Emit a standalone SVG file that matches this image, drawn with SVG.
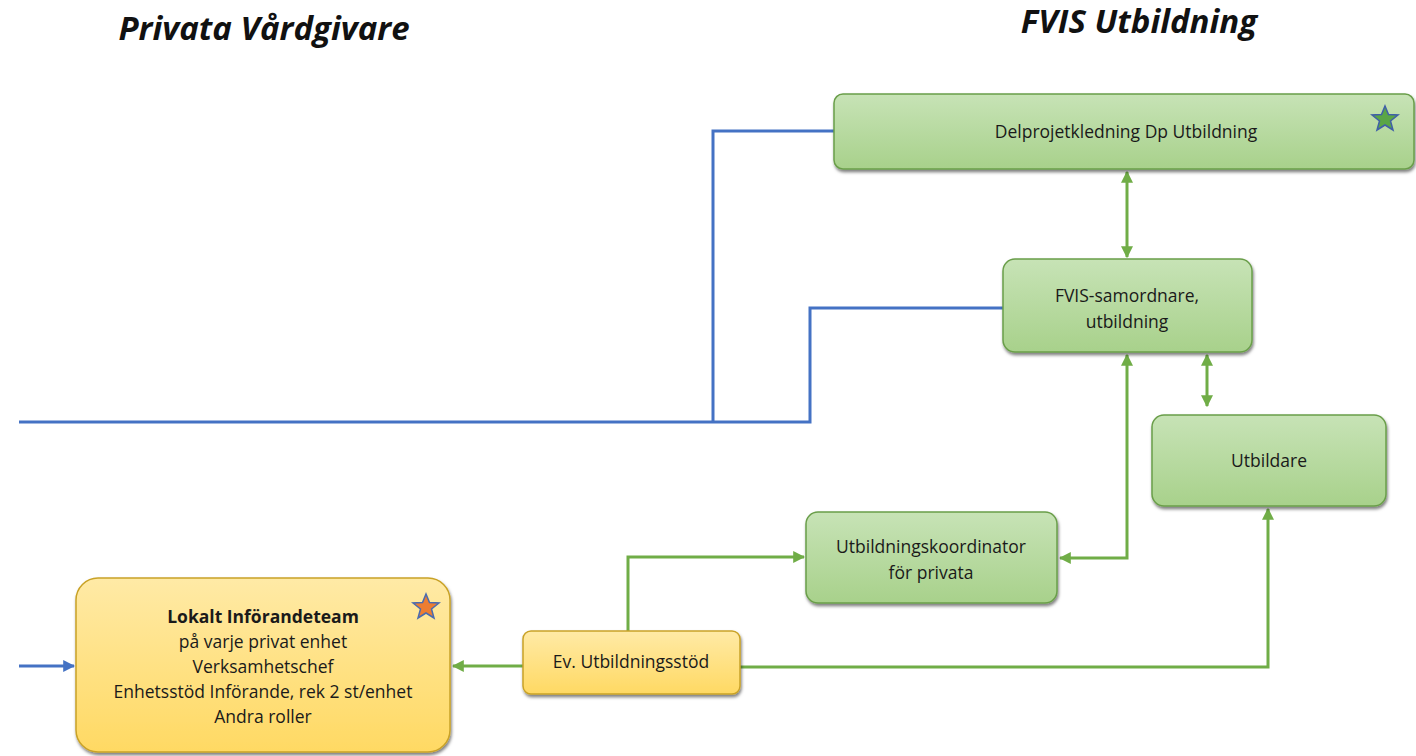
<svg xmlns="http://www.w3.org/2000/svg" width="1416" height="756" viewBox="0 0 1416 756">
<style>
.title{font-family:"Open Sans","Noto Sans",sans-serif;font-weight:bold;font-style:italic;font-size:33px;fill:#111;text-anchor:middle}
.t{font-family:"Open Sans","Noto Sans",sans-serif;font-size:17.5px;fill:#1a1a1a;text-anchor:middle}
.b{font-weight:bold}
.g{fill:url(#gg);stroke:#6a9e4a;stroke-width:1.5;filter:url(#sh)}
.y{fill:url(#yg);stroke:#c9a227;stroke-width:1.5;filter:url(#sh)}
.bl{fill:none;stroke:#4472c4;stroke-width:3}
.gl{fill:none;stroke:#70ad47;stroke-width:3}
</style>
<defs>
<linearGradient id="gg" x1="0" y1="0" x2="0" y2="1"><stop offset="0" stop-color="#c7e3b6"/><stop offset="1" stop-color="#a8d18b"/></linearGradient>
<linearGradient id="yg" x1="0" y1="0" x2="0" y2="1"><stop offset="0" stop-color="#ffeaa6"/><stop offset="1" stop-color="#ffd963"/></linearGradient>
<filter id="sh" x="-5%" y="-10%" width="110%" height="130%"><feDropShadow dx="1" dy="2.5" stdDeviation="1.5" flood-color="#000" flood-opacity="0.5"/></filter>
<marker id="ag" viewBox="0 0 10 10" refX="9" refY="5" markerWidth="4" markerHeight="4" orient="auto-start-reverse"><path d="M0,0 L10,5 L0,10 z" fill="#70ad47"/></marker>
<marker id="ab" viewBox="0 0 10 10" refX="9" refY="5" markerWidth="4" markerHeight="4" orient="auto"><path d="M0,0 L10,5 L0,10 z" fill="#4472c4"/></marker>
</defs>
<text class="title" x="264" y="40">Privata Vårdgivare</text>
<text class="title" x="1139" y="33">FVIS Utbildning</text>
<g id="connectors">
<path class="bl" d="M834,131 H713 V422"/>
<path class="bl" d="M1003,308 H810 V422 H19"/>
<path class="bl" d="M19,666 H74" marker-end="url(#ab)"/>
<path class="gl" d="M1127,172 V257" marker-start="url(#ag)" marker-end="url(#ag)"/>
<path class="gl" d="M1207,355 V406" marker-start="url(#ag)" marker-end="url(#ag)"/>
<path class="gl" d="M1060,558 H1127 V355" marker-start="url(#ag)" marker-end="url(#ag)"/>
<path class="gl" d="M628,631 V557 H804" marker-end="url(#ag)"/>
<path class="gl" d="M523,666 H453" marker-end="url(#ag)"/>
<path class="gl" d="M740,667 H1268 V509" marker-end="url(#ag)"/>
</g>
<g id="n-delprojekt">
<rect class="g" x="834" y="94" width="580" height="75" rx="9"/>
<text class="t" x="1126" y="138">Delprojetkledning Dp Utbildning</text>
<polygon points="1385,106 1388.5,114.5 1398,115 1390.5,121 1393,130 1385,125 1377,130 1379.5,121 1372,115 1381.5,114.5" fill="#5aa645" stroke="#3f5fa8" stroke-width="1.5"/>
</g>
<g id="n-samordnare">
<rect class="g" x="1003" y="259" width="249" height="93" rx="12"/>
<text class="t" x="1127" y="302">FVIS-samordnare,</text>
<text class="t" x="1127" y="328">utbildning</text>
</g>
<g id="n-utbildare">
<rect class="g" x="1152" y="415" width="234" height="91" rx="12"/>
<text class="t" x="1269" y="467">Utbildare</text>
</g>
<g id="n-koordinator">
<rect class="g" x="806" y="512" width="251" height="91" rx="12"/>
<text class="t" x="931" y="553">Utbildningskoordinator</text>
<text class="t" x="931" y="579">för privata</text>
</g>
<g id="n-utbildningsstod">
<rect class="y" x="523" y="631" width="217" height="63" rx="8"/>
<text class="t" x="631" y="668">Ev. Utbildningsstöd</text>
</g>
<g id="n-lokalt">
<rect class="y" x="76" y="578" width="374" height="174" rx="22"/>
<text class="t b" x="263" y="623">Lokalt Införandeteam</text>
<text class="t" x="263" y="648">på varje privat enhet</text>
<text class="t" x="263" y="673">Verksamhetschef</text>
<text class="t" x="263" y="698">Enhetsstöd Införande, rek 2 st/enhet</text>
<text class="t" x="263" y="723">Andra roller</text>
<polygon points="426,594 429.5,602.5 439,603 431.5,609 434,618 426,613 418,618 420.5,609 413,603 422.5,602.5" fill="#ed7d31" stroke="#4a6bb0" stroke-width="1.5"/>
</g>
</svg>
